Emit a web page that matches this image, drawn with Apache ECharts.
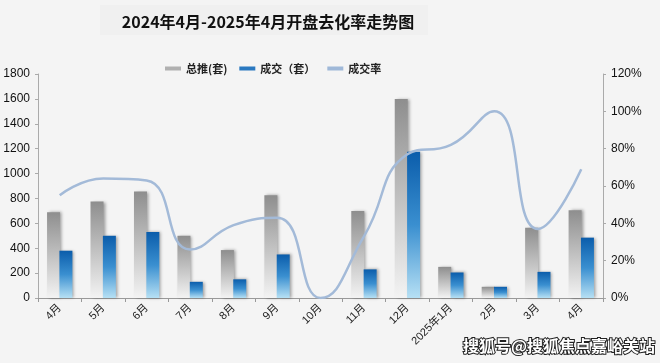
<!DOCTYPE html>
<html>
<head>
<meta charset="utf-8">
<script src="https://cdn.jsdelivr.net/npm/echarts@6/dist/echarts.min.js"></script>
<style>
html,body{margin:0;padding:0;background:#f4f4f4;}
#c{width:660px;height:363px;}
</style>
</head>
<body>
<div id="c"></div>
<script>
const categories = ['4月','5月','6月','7月','8月','9月','10月','11月','12月','2025年1月','2月','3月','4月'];
const totalSupply = [690, 775, 855, 500, 385, 825, 0, 700, 1600, 250, 90, 565, 705];
const deals = [380, 500, 530, 130, 150, 350, 0, 230, 1175, 205, 90, 210, 485];
const dealRate = [55, 64, 63, 26, 39, 43, 0, 33, 77, 82, 100, 37, 69];
const leftTicks = [0, 1800, 200];
const rightTicks = [0, 120, 20];

const FONT = '"Liberation Sans", Arial, "Noto Sans CJK SC", sans-serif';
const chart = echarts.init(document.getElementById('c'), null, {renderer: 'canvas'});
const grayGrad = new echarts.graphic.LinearGradient(0, 0, 0, 1, [
  {offset: 0, color: '#8e8e8e'}, {offset: 1, color: '#f3f3f3'}
]);
const blueGrad = new echarts.graphic.LinearGradient(0, 0, 0, 1, [
  {offset: 0, color: '#0b5dab'}, {offset: 0.5, color: '#3a8fd0'}, {offset: 1, color: '#b6e0f4'}
]);
chart.setOption({
  backgroundColor: '#f4f4f4',
  animation: false,
  graphic: [
    {type: 'rect', shape: {x: 100, y: 5, width: 328, height: 30}, style: {fill: '#f0f0f0'}, z: 0},
    {type: 'text', left: 462, top: 337, z: 10,
     style: {text: '搜狐号@搜狐焦点嘉峪关站', font: 'bold 16px "Noto Sans CJK SC"', fill: '#ffffff', stroke: '#222', lineWidth: 2}}
  ],
  title: {
    text: '2024年4月-2025年4月开盘去化率走势图',
    left: 263, top: 9, textAlign: 'center',
    textStyle: {fontSize: 16, fontWeight: 'bold', color: '#111', fontFamily: '"Noto Sans CJK SC", sans-serif'}
  },
  legend: {
    top: 58, left: 160, itemGap: 12, itemWidth: 16, itemHeight: 4,
    textStyle: {fontSize: 11, color: '#222', fontWeight: 'bold', fontFamily: '"Noto Sans CJK SC", sans-serif'},
    data: [
      {name: '总推(套)', icon: 'rect', itemStyle: {color: '#b0b0b0'}},
      {name: '成交（套）', icon: 'rect', itemStyle: {color: '#2a78c0'}},
      {name: '成交率', icon: 'rect', itemStyle: {color: '#9fb8d8'}}
    ]
  },
  grid: {left: 38, right: 57, top: 74, bottom: 65},
  xAxis: {
    type: 'category', data: categories, boundaryGap: true,
    axisLine: {lineStyle: {color: '#999'}},
    axisTick: {show: true, lineStyle: {color: '#999'}, length: 4},
    axisLabel: {rotate: 45, fontSize: 11, color: '#222', fontFamily: FONT, margin: 8}
  },
  yAxis: [
    {type: 'value', min: leftTicks[0], max: leftTicks[1], interval: leftTicks[2],
     axisLine: {show: true, lineStyle: {color: '#aaa'}},
     axisTick: {show: true, length: 3, lineStyle: {color: '#aaa'}},
     splitLine: {show: false},
     axisLabel: {fontSize: 12, color: '#111', fontFamily: FONT, margin: 8, formatter: function (v) { return String(v); }}},
    {type: 'value', min: rightTicks[0], max: rightTicks[1], interval: rightTicks[2],
     axisLine: {show: true, lineStyle: {color: '#aaa'}},
     axisTick: {show: true, length: 3, lineStyle: {color: '#aaa'}},
     splitLine: {show: false},
     axisLabel: {fontSize: 12, color: '#111', fontFamily: FONT, formatter: '{value}%', margin: 8}}
  ],
  series: [
    {name: '总推(套)', type: 'bar', data: totalSupply, barWidth: 13, barGap: '-5%',
     itemStyle: {color: grayGrad, shadowColor: 'rgba(0,0,0,0.35)', shadowBlur: 3, shadowOffsetX: 2}},
    {name: '成交（套）', type: 'bar', data: deals, barWidth: 13,
     itemStyle: {color: blueGrad, shadowColor: 'rgba(0,0,0,0.35)', shadowBlur: 3, shadowOffsetX: 2}},
    {name: '成交率', type: 'line', yAxisIndex: 1, data: dealRate, smooth: 0.5,
     symbol: 'none', lineStyle: {color: '#a3bad8', width: 2.5}, z: 5}
  ]
});
</script>
</body>
</html>
